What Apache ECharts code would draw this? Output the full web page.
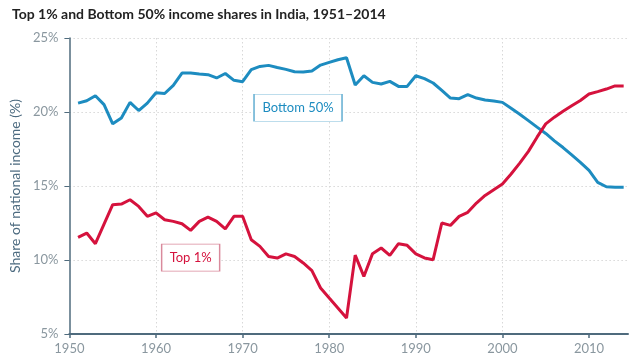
<!DOCTYPE html>
<html>
<head>
<meta charset="utf-8">
<script src="https://cdn.jsdelivr.net/npm/echarts@6/dist/echarts.min.js"></script>
<style>html,body{margin:0;padding:0;background:#fff}#c{width:640px;height:362px}</style>
</head>
<body>
<div id="c"></div>
<script>
var years = [];
for (var y = 1951; y <= 2014; y++) years.push(y);
var bottom50 = [20.6,20.76,21.1,20.5,19.2,19.6,20.65,20.1,20.6,21.3,
  21.25,21.8,22.63,22.63,22.57,22.52,22.3,22.6,22.14,22.05,
  22.86,23.08,23.15,23.01,22.88,22.72,22.7,22.77,23.17,23.35,
  23.53,23.67,21.82,22.45,22.0,21.89,22.07,21.73,21.73,22.45,
  22.25,21.96,21.46,20.94,20.9,21.17,20.94,20.81,20.74,20.65,
  20.25,19.85,19.42,18.98,18.55,18.05,17.6,17.1,16.6,16.05,
  15.25,14.95,14.92,14.92];
var top1 = [11.53,11.82,11.1,12.43,13.74,13.78,14.07,13.62,12.95,13.18,
  12.72,12.61,12.45,12.0,12.61,12.9,12.61,12.11,12.95,12.95,
  11.37,10.92,10.24,10.13,10.41,10.24,9.8,9.28,8.11,7.43,
  6.76,6.08,10.33,8.89,10.43,10.81,10.31,11.1,10.99,10.41,
  10.14,10.02,12.5,12.34,12.95,13.22,13.85,14.36,14.75,15.14,
  15.81,16.55,17.34,18.3,19.2,19.65,20.05,20.42,20.78,21.22,
  21.38,21.55,21.76,21.76];
var xTicks = [1950,1960,1970,1980,1990,2000,2010];
var yTicks = [5,10,15,20,25];
var titleText = 'Top 1% and Bottom 50% income shares in India, 1951\u20132014';
var yName = 'Share of national income (%)';
var labelBottom = {name: 'Bottom 50%', coord: [1976.4, 20.29]};
var labelTop = {name: 'Top 1%', coord: [1964.0, 10.16]};

function pairs(vals){ return years.map(function(yr,i){ return [yr, vals[i]]; }); }

var FONT = 'Lato, "Noto Sans", sans-serif';
var BLUE = '#1d8cc0', RED = '#d5123d';
var axisCol = '#4f6b7d';

var chart = echarts.init(document.getElementById('c'), null, {renderer: 'canvas'});
chart.setOption({
  animation: false,
  title: {text: titleText, left: 7, top: 2,
    textStyle: {fontFamily: FONT, fontSize: 14, fontWeight: 'bold', color: '#222'}},
  grid: {left: 64, right: 12, top: 38, bottom: 28},
  xAxis: {
    type: 'value', min: 1950, max: 2014.5, interval: 10,
    axisLine: {lineStyle: {color: axisCol, width: 2}},
    axisTick: {show: true, length: 4, lineStyle: {color: axisCol, width: 1.5}, customValues: xTicks},
    axisLabel: {customValues: xTicks, formatter: function(v){ return String(v); },
      color: '#8a979f', fontFamily: FONT, fontSize: 13, margin: 8},
    splitLine: {show: true, showMinLine: false, showMaxLine: false,
      lineStyle: {color: '#d8d8d8', type: [1.5, 2.5], width: 1}}
  },
  yAxis: {
    type: 'value', min: 5, max: 25, interval: 5,
    name: yName, nameLocation: 'middle', nameGap: 46,
    nameTextStyle: {color: '#4d6b80', fontFamily: FONT, fontSize: 14},
    axisLine: {show: true, lineStyle: {color: axisCol, width: 1.5}},
    axisTick: {show: true, length: 5, lineStyle: {color: axisCol, width: 1}},
    axisLabel: {formatter: '{value}%', color: '#8a979f', fontFamily: FONT, fontSize: 13, margin: 11},
    splitLine: {show: true, showMinLine: false,
      lineStyle: {color: '#d8d8d8', type: [1.5, 2.5], width: 1}}
  },
  series: [
    {type: 'line', name: 'Bottom 50%', data: pairs(bottom50), showSymbol: false,
     lineStyle: {color: BLUE, width: 3}, itemStyle: {color: BLUE}, z: 3,
     markPoint: {symbol: 'rect', symbolSize: [88, 27],
       itemStyle: {color: '#fff', borderColor: '#7dbcd9', borderWidth: 1},
       label: {show: true, formatter: '{b}', color: BLUE, fontFamily: FONT, fontSize: 13},
       data: [labelBottom]}},
    {type: 'line', name: 'Top 1%', data: pairs(top1), showSymbol: false,
     lineStyle: {color: RED, width: 3}, itemStyle: {color: RED}, z: 4,
     markPoint: {symbol: 'rect', symbolSize: [58, 27],
       itemStyle: {color: '#fff', borderColor: '#d98a9c', borderWidth: 1},
       label: {show: true, formatter: '{b}', color: RED, fontFamily: FONT, fontSize: 13},
       data: [labelTop]}}
  ]
});
</script>
</body>
</html>
